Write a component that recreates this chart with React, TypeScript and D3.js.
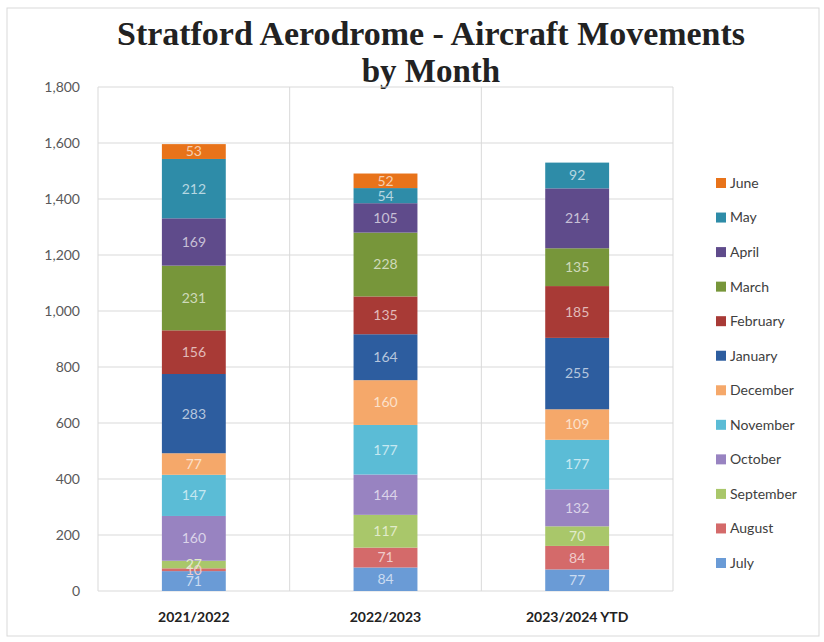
import React from "react";
import * as d3 from "d3";

const categories = ["2021/2022", "2022/2023", "2023/2024 YTD"];
const months = ["July", "August", "September", "October", "November", "December", "January", "February", "March", "April", "May", "June"];
const july = [71, 84, 77];
const august = [10, 71, 84];
const september = [27, 117, 70];
const october = [160, 144, 132];
const november = [147, 177, 177];
const december = [77, 160, 109];
const january = [283, 164, 255];
const february = [156, 135, 185];
const march = [231, 228, 135];
const april = [169, 105, 214];
const may = [212, 54, 92];
const june = [53, 52, 0];
const yTicks = [0, 200, 400, 600, 800, 1000, 1200, 1400, 1600, 1800];
const colors = ["#6A9BD6", "#D46A6A", "#A9C76A", "#9883C1", "#5BBCD6", "#F5A86A", "#2D5D9F", "#A83A36", "#77963A", "#5F4B8B", "#2E8CA8", "#E8731A"];

const seriesValues = [july, august, september, october, november, december, january, february, march, april, may, june];

const W = 824, H = 642;
const left = 98, right = 673, top = 87, bottom = 591;
const font = "Lato, 'Open Sans', sans-serif";
const titleFont = "'Liberation Serif', 'DejaVu Serif', serif";

export default function App() {
  const rows = categories.map((c, i) => {
    const r: any = { cat: c };
    months.forEach((m, j) => (r[m] = seriesValues[j][i]));
    return r;
  });
  const stack = d3.stack<any>().keys(months)(rows);
  const x = d3.scaleBand().domain(categories).range([left, right]).paddingInner(0).paddingOuter(0);
  const y = d3.scaleLinear().domain([0, 1800]).range([bottom, top]);
  const bw = x.bandwidth() / 3;
  const legendY = d3.scalePoint().domain(months.slice().reverse()).range([183, 563]);

  return (
    <svg width={W} height={H} style={{ position: "absolute", left: 0, top: 0, background: "#fff" }}>
      <rect x={7} y={8} width={812} height={628} fill="#fff" stroke="#d9d9d9" />
      <text x={431} y={45} textAnchor="middle" fontFamily={titleFont} fontWeight="bold" fontSize={33} fill="#222" textLength={628} lengthAdjust="spacingAndGlyphs">
        Stratford Aerodrome - Aircraft Movements
      </text>
      <text x={431} y={82} textAnchor="middle" fontFamily={titleFont} fontWeight="bold" fontSize={33} fill="#222">
        by Month
      </text>
      {yTicks.map((t) => (
        <g key={t}>
          <line x1={left} x2={right} y1={y(t)} y2={y(t)} stroke="#d9d9d9" strokeWidth={1} />
          <text x={80} y={y(t)} dy="0.35em" textAnchor="end" fontFamily={font} fontSize={14} fill="#595959">
            {d3.format(",")(t)}
          </text>
        </g>
      ))}
      {[...categories.map((c) => x(c)!), right].map((xx, i) => (
        <line key={i} x1={xx} x2={xx} y1={top} y2={bottom} stroke="#d9d9d9" strokeWidth={1} />
      ))}
      {stack.map((s, j) => (
        <g key={s.key}>
          {s.map((d, i) => {
            const v = d[1] - d[0];
            if (v <= 0) return null;
            const cx = x(categories[i])! + x.bandwidth() / 2;
            return (
              <rect key={i} x={cx - bw / 2} y={y(d[1])} width={bw} height={y(d[0]) - y(d[1])} fill={colors[j]} />
            );
          })}
        </g>
      ))}
      {stack.map((s, j) => (
        <g key={"l" + s.key}>
          {s.map((d, i) => {
            const v = d[1] - d[0];
            if (v <= 0) return null;
            const cx = x(categories[i])! + x.bandwidth() / 2;
            return (
              <text key={i} x={cx} y={(y(d[0]) + y(d[1])) / 2} dy="0.35em" textAnchor="middle" fontFamily={font} fontSize={14} fill={d3.interpolateRgb(colors[j], "#fff")(0.65)}>
                {v}
              </text>
            );
          })}
        </g>
      ))}
      {categories.map((c) => (
        <text key={c} x={x(c)! + x.bandwidth() / 2} y={617} dy="0.35em" textAnchor="middle" fontFamily={font} fontWeight="bold" fontSize={14} fill="#222">
          {c}
        </text>
      ))}
      {months.map((m, j) => (
        <g key={m} transform={`translate(716,${legendY(m)})`}>
          <rect x={0} y={-5} width={10} height={10} fill={colors[j]} />
          <text x={14} y={0} dy="0.35em" fontFamily={font} fontSize={14} fill="#404040">
            {m}
          </text>
        </g>
      ))}
    </svg>
  );
}
